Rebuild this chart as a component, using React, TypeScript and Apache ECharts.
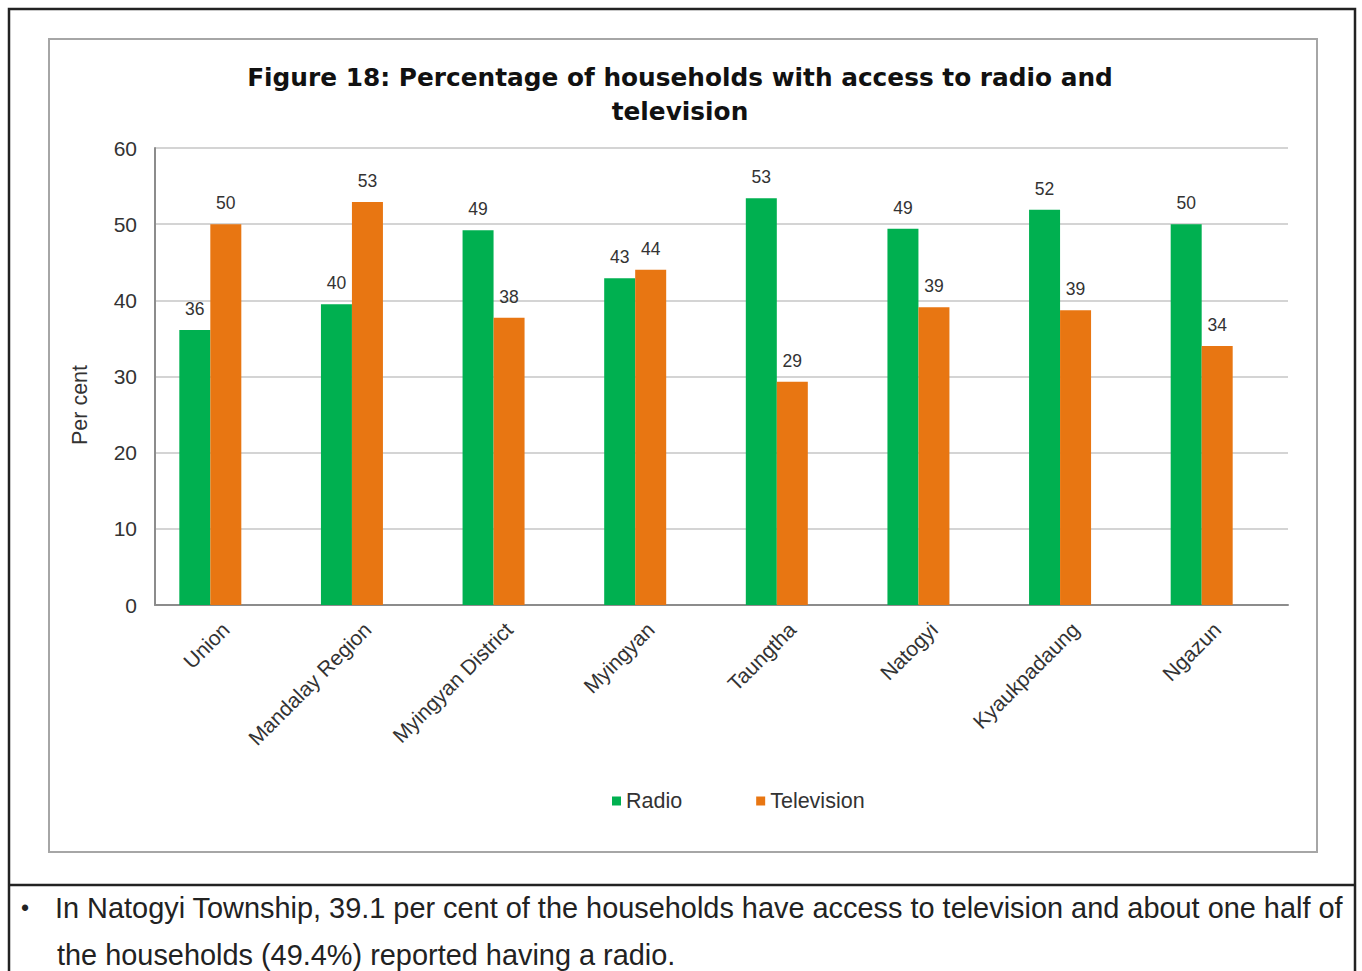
import React, { useEffect, useRef } from "react";
import * as echarts from "echarts";

const categories = [
  "Union",
  "Mandalay Region",
  "Myingyan District",
  "Myingyan",
  "Taungtha",
  "Natogyi",
  "Kyaukpadaung",
  "Ngazun",
];
const radio = [36.1, 39.5, 49.2, 42.9, 53.4, 49.4, 51.9, 50.0];
const television = [50.0, 52.9, 37.7, 44.0, 29.3, 39.1, 38.7, 34.0];
const yTicks = [0, 10, 20, 30, 40, 50, 60];

const titleLines = [
  "Figure 18: Percentage of households with access to radio and",
  "television",
];
const yName = "Per cent";
const bulletLines = [
  "In Natogyi Township, 39.1 per cent of the households have access to television and about one half of",
  "the households (49.4%) reported having a radio.",
];

const FONT = "Arial, 'Liberation Sans', sans-serif";
const TITLE_FONT = "'DejaVu Sans', Verdana, sans-serif";

export default function App() {
  const ref = useRef<HTMLDivElement>(null);
  useEffect(() => {
    if (!ref.current) return;
    const chart = echarts.init(ref.current, undefined, { renderer: "svg" });
    const labelStyle = {
      show: true,
      position: "top" as const,
      distance: 12,
      color: "#333",
      fontSize: 17.5,
      fontFamily: FONT,
      formatter: (p: any) => String(Math.round(p.value)),
    };
    chart.setOption({
      animation: false,
      backgroundColor: "#fff",
      textStyle: { fontFamily: FONT },
      title: {
        text: titleLines.join("\n"),
        left: 675,
        textAlign: "center",
        top: 55,
        textStyle: {
          fontSize: 24.8,
          fontWeight: "bold",
          color: "#111",
          lineHeight: 34,
          fontFamily: TITLE_FONT,
        },
      },
      legend: {
        left: 607,
        top: 785,
        itemWidth: 9,
        itemHeight: 9,
        itemGap: 74,
        icon: "rect",
        textStyle: { fontSize: 21.5, color: "#333", fontFamily: FONT },
        data: ["Radio", "Television"],
      },
      grid: { left: 155, top: 148, width: 1133, height: 457, containLabel: false },
      xAxis: {
        type: "category",
        data: categories,
        axisLine: { show: true, lineStyle: { color: "#8c8c8c", width: 2 } },
        axisTick: { show: false },
        axisLabel: {
          rotate: 45,
          interval: 0,
          fontSize: 21,
          color: "#333",
          margin: 21,
          fontFamily: FONT,
        },
      },
      yAxis: {
        type: "value",
        min: 0,
        max: 60,
        interval: 10,
        axisLine: { show: true, lineStyle: { color: "#8c8c8c", width: 2 } },
        axisTick: { show: false },
        axisLabel: {
          fontSize: 21,
          color: "#333",
          margin: 18,
          fontFamily: FONT,
          formatter: (v: number) => (yTicks.includes(v) ? String(v) : ""),
        },
        splitLine: { show: true, lineStyle: { color: "#d4d4d4", width: 2 } },
      },
      series: [
        {
          name: "Radio",
          type: "bar",
          data: radio,
          barWidth: 31,
          barGap: "0%",
          itemStyle: { color: "#00b050" },
          label: labelStyle,
        },
        {
          name: "Television",
          type: "bar",
          data: television,
          barWidth: 31,
          barGap: "0%",
          itemStyle: { color: "#e87612" },
          label: labelStyle,
        },
        {
          name: "spacer",
          type: "bar",
          data: categories.map(() => "-"),
          barWidth: 31,
          barGap: "0%",
          silent: true,
          itemStyle: { color: "transparent" },
        },
      ],
      graphic: [
        {
          type: "rect",
          shape: { x: 9, y: 9, width: 1346, height: 1000 },
          style: { fill: "none", stroke: "#222", lineWidth: 2.5 },
          silent: true,
          z: -1,
        },
        {
          type: "line",
          shape: { x1: 9, y1: 885, x2: 1355, y2: 885 },
          style: { stroke: "#222", lineWidth: 2.5 },
          silent: true,
        },
        {
          type: "rect",
          shape: { x: 49, y: 39, width: 1268, height: 813 },
          style: { fill: "none", stroke: "#a6a6a6", lineWidth: 2 },
          silent: true,
        },
        {
          type: "text",
          x: 80,
          y: 405,
          rotation: Math.PI / 2,
          style: {
            text: yName,
            fontSize: 21.5,
            fill: "#333",
            fontFamily: FONT,
            align: "center",
            verticalAlign: "middle",
          },
        },
        {
          type: "text",
          x: 21,
          y: 908,
          style: {
            text: "•",
            fontSize: 23,
            fill: "#222",
            fontFamily: FONT,
            verticalAlign: "middle",
          },
        },
        {
          type: "text",
          x: 55,
          y: 908,
          style: {
            text: bulletLines[0],
            fontSize: 28.9,
            fill: "#222",
            fontFamily: FONT,
            verticalAlign: "middle",
          },
        },
        {
          type: "text",
          x: 57,
          y: 955,
          style: {
            text: bulletLines[1],
            fontSize: 28.9,
            fill: "#222",
            fontFamily: FONT,
            verticalAlign: "middle",
          },
        },
      ],
    });
    return () => chart.dispose();
  }, []);
  return (
    <div
      ref={ref}
      style={{ position: "fixed", left: 0, top: 0, width: 1362, height: 971 }}
    />
  );
}
